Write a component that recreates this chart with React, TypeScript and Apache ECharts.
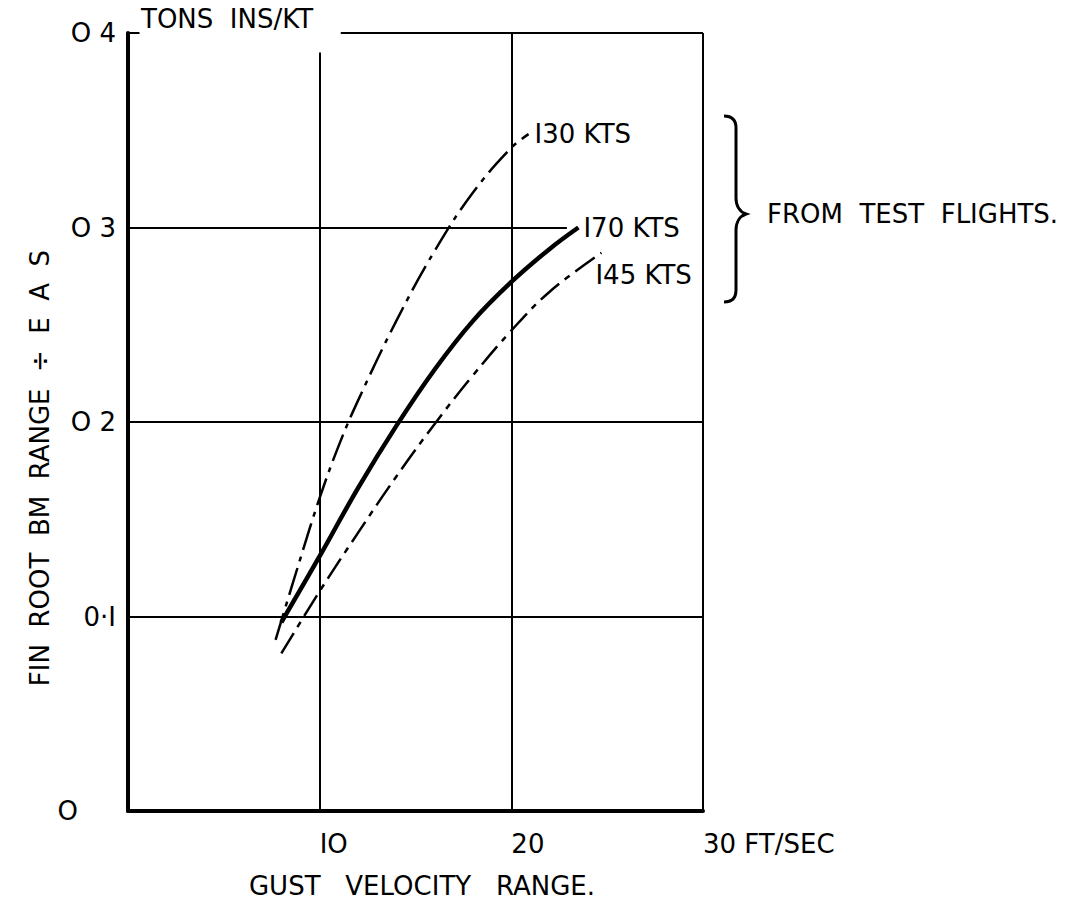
import React, { useEffect, useRef } from "react";
import * as echarts from "echarts";

const xTickLabels: Record<number, string> = { 0: "", 10: "IO", 20: "20", 30: "30 FT/SEC" };
const yTickLabels: Record<string, string> = { "0": "O", "0.1": "0·I", "0.2": "O 2", "0.3": "O 3", "0.4": "O 4" };

const x130 = [7.7, 9, 10, 11, 12, 14, 16, 18, 20, 20.9];
const y130 = [0.088, 0.13, 0.161, 0.188, 0.211, 0.252, 0.288, 0.318, 0.341, 0.348];
const x170 = [8.0, 10, 12, 14, 16, 18, 20, 22, 23.5];
const y170 = [0.097, 0.131, 0.166, 0.198, 0.227, 0.252, 0.272, 0.289, 0.3];
const x145 = [8.0, 10, 12, 14, 16, 18, 20, 22, 24.7];
const y145 = [0.081, 0.113, 0.143, 0.172, 0.199, 0.224, 0.247, 0.267, 0.287];

const seriesLabels = ["I30 KTS", "I70 KTS", "I45 KTS"];

// grid lines: [x1, y1, x2, y2]
const gridLines = [
  [0, 0.1, 30, 0.1],
  [0, 0.2, 30, 0.2],
  [0, 0.3, 22.9, 0.3],
  [11.1, 0.4, 30, 0.4],
  [0, 0.4, 0.6, 0.4],
  [10, 0, 10, 0.39],
  [20, 0, 20, 0.4],
  [30, 0, 30, 0.4],
];

const FONT = "DejaVu Sans";
const FS = 26;

export default function App() {
  const ref = useRef<HTMLDivElement>(null);
  useEffect(() => {
    if (!ref.current) return;
    echarts.graphic.registerShape(
      "brace",
      echarts.graphic.extendPath(
        "M0 0 C8 0 12 4 12 12 L12 82 C12 90 16 96 22 98 C16 100 12 106 12 114 L12 174 C12 182 8 186 0 186",
        {}
      )
    );
    const chart = echarts.init(ref.current, null, { renderer: "svg" });
    const pair = (xs: number[], ys: number[]) => xs.map((x, i) => [x, ys[i]]);
    const txt = { color: "#000", fontFamily: FONT, fontSize: FS };
    chart.setOption({
      animation: false,
      backgroundColor: "#fff",
      grid: { left: 128, right: 368, top: 33, bottom: 92, containLabel: false },
      xAxis: {
        type: "value",
        min: 0,
        max: 30,
        interval: 10,
        axisLine: { show: true, lineStyle: { color: "#000", width: 4 } },
        axisTick: { show: false },
        splitLine: { show: false },
        axisLabel: {
          color: "#000",
          fontFamily: FONT,
          fontSize: FS,
          margin: 20,
          align: "left",
          formatter: (v: number) => xTickLabels[v] ?? "",
        },
      },
      yAxis: {
        type: "value",
        min: 0,
        max: 0.4,
        interval: 0.1,
        axisLine: { show: true, lineStyle: { color: "#000", width: 4 } },
        axisTick: { show: false },
        splitLine: { show: false },
        axisLabel: {
          color: "#000",
          fontFamily: FONT,
          fontSize: FS,
          margin: 12,
          formatter: (v: number) => {
            const k = String(Math.round(v * 10) / 10);
            return k === "0" ? "{z|" + yTickLabels[k] + "}" : yTickLabels[k] ?? "";
          },
          rich: { z: { color: "#000", fontFamily: FONT, fontSize: FS, padding: [0, 38, 0, 0] } },
        },
      },
      graphic: [
        { type: "text", left: 141, top: 6, style: { text: "TONS  INS/KT", fill: "#000", font: `${FS}px "${FONT}"` } },
        {
          type: "text",
          x: 40,
          y: 468,
          rotation: Math.PI / 2,
          style: {
            text: "FIN  ROOT  BM  RANGE  ÷  E  A  S",
            fill: "#000",
            font: `${FS}px "${FONT}"`,
            align: "center",
            verticalAlign: "middle",
          },
        },
        {
          type: "text",
          x: 422,
          y: 886,
          style: { text: "GUST   VELOCITY   RANGE.", fill: "#000", font: `${FS}px "${FONT}"`, align: "center", verticalAlign: "middle" },
        },
        { type: "brace", x: 724, y: 116, style: { fill: "none", stroke: "#000", lineWidth: 3 } },
        {
          type: "text",
          x: 767,
          y: 214,
          style: { text: "FROM  TEST  FLIGHTS.", fill: "#000", font: `${FS}px "${FONT}"`, verticalAlign: "middle" },
        },
      ],
      series: [
        {
          type: "line",
          data: [],
          silent: true,
          markLine: {
            silent: true,
            symbol: "none",
            label: { show: false },
            lineStyle: { color: "#000", width: 2, type: "solid" },
            data: gridLines.map((g) => [{ coord: [g[0], g[1]] }, { coord: [g[2], g[3]] }]),
          },
        },
        {
          type: "line",
          data: pair(x130, y130),
          smooth: 0.4,
          showSymbol: false,
          lineStyle: { color: "#000", width: 2.5, type: [28, 7, 5, 7] },
          endLabel: { show: true, formatter: seriesLabels[0], ...txt, distance: 6 },
        },
        {
          type: "line",
          data: pair(x170, y170),
          smooth: 0.4,
          showSymbol: false,
          lineStyle: { color: "#000", width: 4.5 },
          endLabel: { show: true, formatter: seriesLabels[1], ...txt, distance: 5 },
        },
        {
          type: "line",
          data: pair(x145, y145),
          smooth: 0.4,
          showSymbol: false,
          lineStyle: { color: "#000", width: 2.5, type: [24, 7, 6, 7] },
          endLabel: { show: true, formatter: seriesLabels[2], ...txt, distance: 0, offset: [-6, 22] },
        },
      ],
    });
    return () => chart.dispose();
  }, []);
  return <div ref={ref} style={{ position: "absolute", left: 0, top: 0, width: 1071, height: 903, background: "#fff" }} />;
}
